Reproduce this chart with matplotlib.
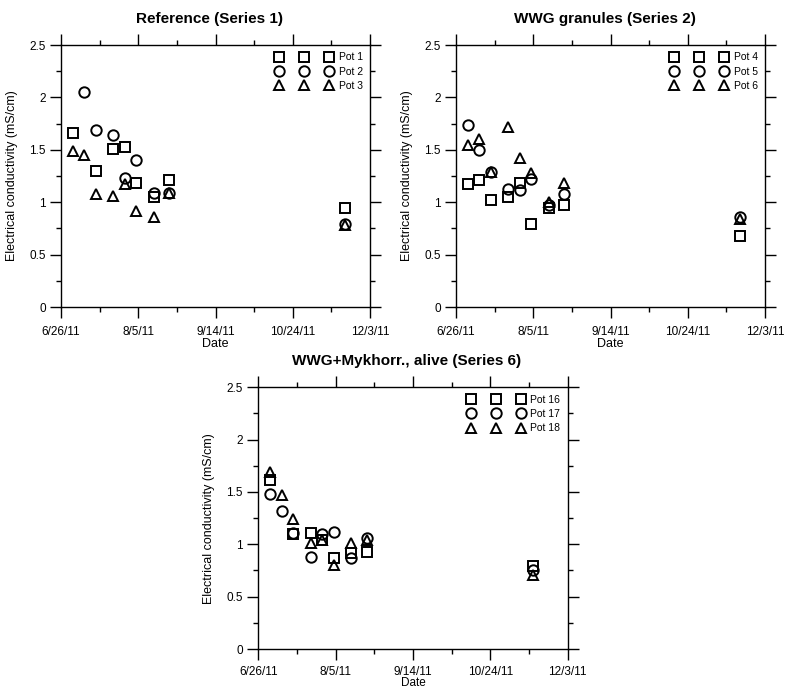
import matplotlib
matplotlib.use("Agg")
import matplotlib.pyplot as plt
import matplotlib.dates as mdates
import matplotlib.ticker as mticker
import numpy as np
from datetime import datetime

plt.rcParams['font.family'] = ['Liberation Sans', 'DejaVu Sans']

nan = np.nan

# ---- data ----
dates_a = ["2011-07-02", "2011-07-08", "2011-07-14", "2011-07-23", "2011-07-29",
           "2011-08-04", "2011-08-13", "2011-08-21", "2011-11-20"]
dates_b = ["2011-07-02", "2011-07-08", "2011-07-14", "2011-07-23", "2011-07-29",
           "2011-08-04", "2011-08-13", "2011-08-21", "2011-11-15"]

pot1 = [1.66, nan, 1.30, 1.51, 1.53, 1.18, 1.05, 1.21, 0.94]
pot2 = [nan, 2.05, 1.69, 1.64, 1.23, 1.40, 1.09, 1.09, 0.79]
pot3 = [1.49, 1.45, 1.08, 1.06, 1.17, 0.92, 0.86, 1.09, 0.78]

pot4 = [1.17, 1.21, 1.02, 1.05, 1.18, 0.79, 0.94, 0.97, 0.68]
pot5 = [1.74, 1.50, 1.29, 1.13, 1.12, 1.22, 0.97, 1.08, 0.86]
pot6 = [1.55, 1.60, 1.29, 1.72, 1.42, 1.28, 1.00, 1.18, 0.84]

pot16 = [1.61, nan, 1.10, 1.11, 1.04, 0.87, 0.92, 0.93, 0.79]
pot17 = [1.48, 1.32, 1.11, 0.88, 1.10, 1.12, 0.87, 1.06, 0.75]
pot18 = [1.69, 1.47, 1.24, 1.01, 1.04, 0.80, 1.01, 1.04, 0.71]

titles = ["Reference (Series 1)", "WWG granules (Series 2)", "WWG+Mykhorr., alive (Series 6)"]
labels1 = ["Pot 1", "Pot 2", "Pot 3"]
labels2 = ["Pot 4", "Pot 5", "Pot 6"]
labels3 = ["Pot 16", "Pot 17", "Pot 18"]

major_dates = ["2011-06-26", "2011-08-05", "2011-09-14", "2011-10-24", "2011-12-03"]
minor_dates = ["2011-07-16", "2011-08-25", "2011-10-04", "2011-11-13"]
yticks = [0, 0.5, 1, 1.5, 2, 2.5]
ytick_labels = ["0", "0.5", "1", "1.5", "2", "2.5"]

W, H = 785, 689
fig = plt.figure(figsize=(W / 100, H / 100), dpi=100)


def to_num(lst):
    return mdates.date2num([datetime.strptime(d, "%Y-%m-%d") for d in lst])


def fmt_date(x, pos=None):
    d = mdates.num2date(x)
    return f"{d.month}/{d.day}/{d.year % 100:02d}"


markers = ['s', 'o', '^']
msizes = [7.5, 7.5, 6.8]


def panel(rect_px, title, dates, series, labels, xpad=5.5, xlabelpad=0, xlabelsize=9):
    l, t, r, b = rect_px
    ax = fig.add_axes([l / W, 1 - b / H, (r - l) / W, (b - t) / H])
    x = to_num(dates)
    for s, m, ms, lab in zip(series, markers, msizes, labels):
        ax.plot(x, s, linestyle='none', marker=m, markersize=ms,
                markerfacecolor='none', markeredgecolor='black',
                markeredgewidth=1.4, label=lab)
    ax.set_xlim(to_num(["2011-06-26"])[0], to_num(["2011-12-03"])[0])
    ax.set_ylim(0, 2.5)
    ax.xaxis.set_major_locator(mticker.FixedLocator(to_num(major_dates)))
    ax.xaxis.set_minor_locator(mticker.FixedLocator(to_num(minor_dates)))
    ax.xaxis.set_major_formatter(mticker.FuncFormatter(fmt_date))
    ax.set_yticks(yticks)
    ax.set_yticklabels(ytick_labels)
    ax.yaxis.set_minor_locator(mticker.MultipleLocator(0.25))
    ax.tick_params(which='both', direction='out', top=True, right=True,
                   labelsize=8.5, width=1.0, colors='black')
    ax.tick_params(axis='x', which='major', length=8, pad=xpad)
    ax.tick_params(axis='y', which='major', length=8, pad=3)
    ax.tick_params(which='minor', length=3.5)
    for sp in ax.spines.values():
        sp.set_linewidth(1.0)
    ax.set_xlabel("Date", fontsize=xlabelsize, labelpad=xlabelpad)
    ax.set_ylabel("Electrical conductivity (mS/cm)", fontsize=9)
    ax.yaxis.set_label_coords(-43 / (r - l), 0.5)
    fig.text((l + r) / 2 / W - 6 / W, 1 - (t - 26) / H, title,
             ha='center', va='center', fontsize=11, fontweight='bold')
    ax.legend(loc='upper right', bbox_to_anchor=(1.0, 1.0), frameon=False,
              numpoints=3, handlelength=5.4, handletextpad=0.6,
              labelspacing=0.42, fontsize=7.5, borderaxespad=0.2,
              borderpad=0.5)
    return ax


panel((61, 45, 370, 307), titles[0], dates_a, [pot1, pot2, pot3], labels1)
panel((456, 45, 765, 307), titles[1], dates_a, [pot4, pot5, pot6], labels2)
panel((258.3, 387.3, 567.7, 649), titles[2], dates_b, [pot16, pot17, pot18], labels3,
      xpad=4.5, xlabelpad=-1.0, xlabelsize=8.5)

fig.savefig("out.png", dpi=100)
